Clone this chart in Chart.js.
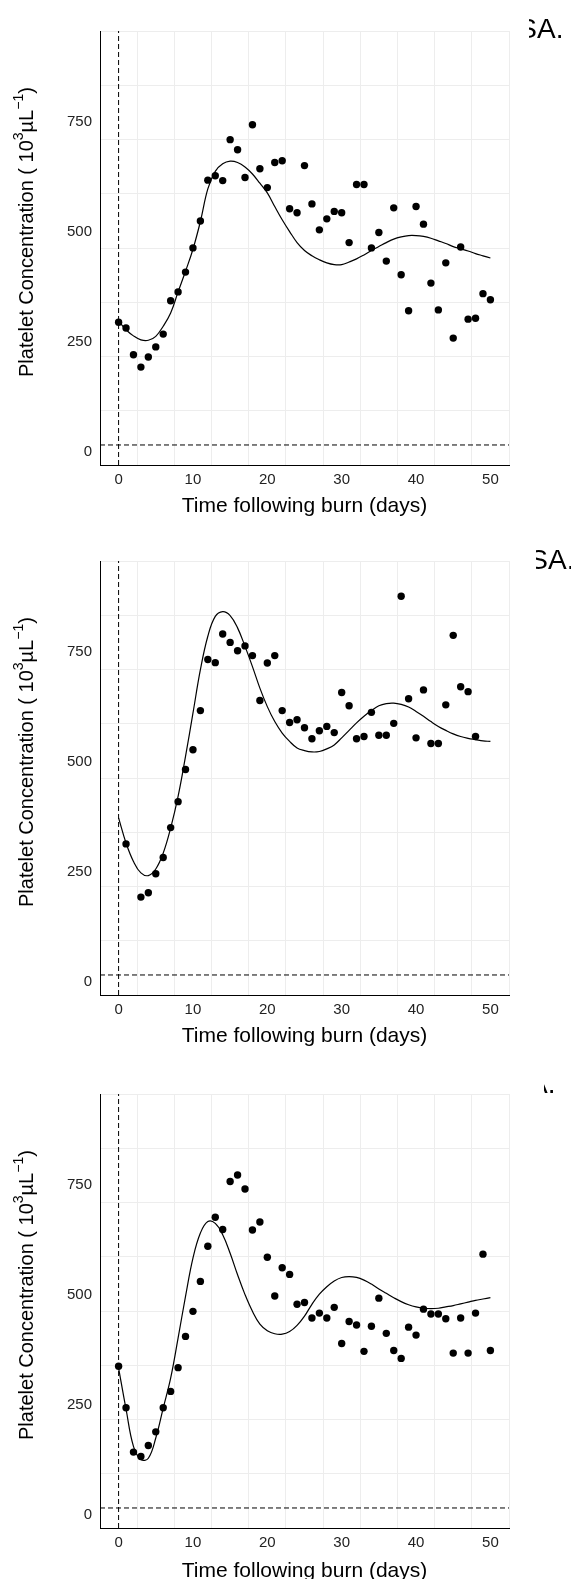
<!DOCTYPE html>
<html>
<head>
<meta charset="utf-8">
<script src="https://cdn.jsdelivr.net/npm/chart.js@4.4.0/dist/chart.umd.min.js"></script>
<style>
  body { margin: 0; background: #fff; width: 571px; height: 1579px; position: relative; overflow: hidden; }
  .panel { position: absolute; left: 0; width: 571px; height: 518px; }
</style>
</head>
<body>
<div class="panel" id="p1"><canvas id="c1" width="571" height="518"></canvas></div>
<div class="panel" id="p2"><canvas id="c2" width="571" height="518"></canvas></div>
<div class="panel" id="p3"><canvas id="c3" width="571" height="518"></canvas></div>
<script>
// days after burn
const days = [0, 1, 2, 3, 4, 5, 6, 7, 8, 9, 10, 11, 12, 13, 14, 15, 16, 17, 18, 19, 20,
  21, 22, 23, 24, 25, 26, 27, 28, 29, 30, 31, 32, 33, 34, 35, 36, 37, 38, 39, 40,
  41, 42, 43, 44, 45, 46, 47, 48, 49, 50];

// observed platelet counts (10^3/uL), one per day (null = no sample)
const obs1 = [279, 266, 205, 177, 200, 223, 252, 328, 348, 393, 448, 509, 602, 612, 601, 694, 671, 608, 728, 628, 585,
  642, 646, 537, 528, 635, 548, 489, 514, 531, 528, 460, 592, 592, 448, 483, 418, 539, 387, 305, 542,
  502, 368, 307, 414, 243, 450, 286, 288, 344, 330];
const obs2 = [null, 298, null, 177, 187, 230, 267, 335, 394, 467, 512, 601, 717, 710, 775, 756, 737, 748, 726, 624, 709,
  726, 601, 574, 580, 562, 537, 555, 565, 551, 642, 612, 537, 542, 597, 545, 545, 572, 861, 628, 539,
  648, 526, 526, 614, 772, 655, 644, 542, null, null];
const obs3 = [322, 228, 127, 117, 142, 173, 228, 265, 319, 390, 447, 515, 595, 661, 633, 742, 757, 725, 632, 650, 570,
  482, 546, 531, 463, 467, 432, 443, 432, 456, 374, 424, 416, 356, 413, 477, 397, 358, 340, 411, 393,
  452, 441, 441, 430, 352, 432, 352, 443, 577, 358];

// fitted model curve, one per day
const fit1 = [281, 262, 248, 239, 238, 247, 270, 300, 348, 395, 445, 508, 582, 622, 639, 645, 642, 632, 616, 595, 573,
  542, 512, 485, 460, 442, 430, 421, 414, 410, 410, 416, 423, 432, 442, 451, 460, 468, 473, 476, 476,
  474, 470, 464, 458, 451, 446, 441, 435, 430, 425];
const fit2 = [357, 300, 258, 232, 226, 241, 277, 334, 406, 497, 595, 694, 770, 815, 826, 817, 789, 747, 701, 652, 610,
  576, 550, 531, 516, 510, 507, 508, 514, 523, 539, 556, 573, 588, 601, 612, 617, 618, 615, 609, 599,
  588, 576, 565, 556, 548, 542, 538, 535, 532, 531];
const fit3 = [318, 225, 140, 110, 113, 159, 227, 295, 386, 481, 568, 625, 651, 647, 621, 579, 530, 485, 447, 418, 403,
  396, 395, 401, 415, 436, 463, 486, 503, 516, 524, 526, 524, 518, 509, 498, 488, 478, 469, 462, 457,
  454, 453, 454, 457, 460, 464, 468, 472, 475, 478];

const xTickLabels = [0, 10, 20, 30, 40, 50];
const yTickLabels = [0, 250, 500, 750];
const xTitle = 'Time following burn (days)';
const yTitle = [['Platelet Concentration ( 10', false], ['3', true], ['\u00b5L', false], ['\u22121', true], [')', false]];

const X_MIN = -2.5, X_MAX = 52.5, Y_MIN = -45.5, Y_MAX = 941;
const FONT = '"Liberation Sans", Arial, Helvetica, sans-serif';

const panels = [
  { id: 'c1', box: 'p1', top: 0, obs: obs1, fit: fit1, tag: 'SA.', skip: 'S', tagX: 537, clipX: 529, tagY: 37.5, xTitleY: 512 },
  { id: 'c2', box: 'p2', top: 530, obs: obs2, fit: fit2, tag: 'SA.', skip: 'S', tagX: 548, clipX: 536, tagY: 39, xTitleY: 512 },
  { id: 'c3', box: 'p3', top: 1063, obs: obs3, fit: fit3, tag: 'A.', skip: '', tagX: 529, clipX: 544, tagY: 30, xTitleY: 514 }
];

function toPoints(ys) {
  const pts = [];
  days.forEach((d, i) => { if (ys[i] !== null) pts.push({ x: d, y: ys[i] }); });
  return pts;
}

// tick labels, axis titles and the cut-off panel tag
const extras = {
  id: 'extras',
  afterDraw(chart, args, opts) {
    const ctx = chart.ctx;
    const a = chart.chartArea;
    const sx = chart.scales.x, sy = chart.scales.y;
    ctx.save();

    ctx.fillStyle = '#222';
    ctx.font = '15px ' + FONT;
    ctx.textBaseline = 'middle';
    ctx.textAlign = 'center';
    xTickLabels.forEach(v => ctx.fillText(String(v), sx.getPixelForValue(v), a.bottom + 15));
    ctx.textAlign = 'right';
    yTickLabels.forEach(v => ctx.fillText(String(v), a.left - 8, sy.getPixelForValue(v) + 7));

    ctx.fillStyle = '#000';
    ctx.textBaseline = 'alphabetic';
    ctx.font = '21px ' + FONT;
    ctx.textAlign = 'center';
    ctx.fillText(xTitle, (a.left + a.right) / 2, opts.xTitleY);

    ctx.save();
    ctx.translate(33, 377);
    ctx.rotate(-Math.PI / 2);
    ctx.textAlign = 'left';
    let x = 0;
    yTitle.forEach(([t, sup]) => {
      ctx.font = (sup ? '14px ' : '20px ') + FONT;
      ctx.fillText(t, x, sup ? -10 : 0);
      x += ctx.measureText(t).width;
    });
    ctx.restore();

    ctx.beginPath();
    ctx.rect(opts.clipX, 0, 571 - opts.clipX, 60);
    ctx.clip();
    ctx.font = '28px ' + FONT;
    ctx.textAlign = 'left';
    const start = opts.tagX - ctx.measureText(opts.skip).width;
    ctx.fillText(opts.tag, start, opts.tagY);
    ctx.restore();
  }
};

panels.forEach(p => {
  document.getElementById(p.box).style.top = p.top + 'px';
  new Chart(document.getElementById(p.id), {
    type: 'scatter',
    data: {
      datasets: [
        { data: toPoints(p.obs), backgroundColor: '#000', borderWidth: 0, pointRadius: 3.7 },
        { type: 'line', data: toPoints(p.fit), borderColor: '#000', borderWidth: 1.2, pointRadius: 0, tension: 0.4, fill: false },
        { type: 'line', data: [{ x: 0, y: Y_MIN }, { x: 0, y: Y_MAX }], borderColor: '#000', borderWidth: 1, borderDash: [5, 3], pointRadius: 0 },
        { type: 'line', data: [{ x: X_MIN, y: 0 }, { x: X_MAX, y: 0 }], borderColor: '#000', borderWidth: 1, borderDash: [5, 3], pointRadius: 0 }
      ]
    },
    options: {
      responsive: false,
      animation: false,
      devicePixelRatio: 1,
      layout: { padding: { top: 31, right: 62, left: 0, bottom: 0 } },
      plugins: {
        legend: { display: false },
        tooltip: { enabled: false },
        extras: { tag: p.tag, skip: p.skip, tagX: p.tagX, clipX: p.clipX, tagY: p.tagY, xTitleY: p.xTitleY }
      },
      scales: {
        x: {
          type: 'linear', min: X_MIN, max: X_MAX,
          afterFit: s => { s.height = 53; },
          ticks: { display: false, stepSize: 5, includeBounds: false, autoSkip: false },
          grid: {
            color: '#ededed', lineWidth: 1, tickLength: 4,
            tickColor: c => (c.tick && xTickLabels.includes(c.tick.value)) ? '#888' : 'rgba(0,0,0,0)'
          },
          border: { display: true, color: '#000', width: 1 }
        },
        y: {
          type: 'linear', min: Y_MIN, max: Y_MAX,
          afterFit: s => { s.width = 100; },
          ticks: { display: false, stepSize: 125, includeBounds: false, autoSkip: false },
          grid: {
            color: '#ededed', lineWidth: 1, tickLength: 4,
            tickColor: c => (c.tick && yTickLabels.includes(c.tick.value)) ? '#888' : 'rgba(0,0,0,0)'
          },
          border: { display: true, color: '#000', width: 1 }
        }
      }
    },
    plugins: [extras]
  });
});
</script>
</body>
</html>
